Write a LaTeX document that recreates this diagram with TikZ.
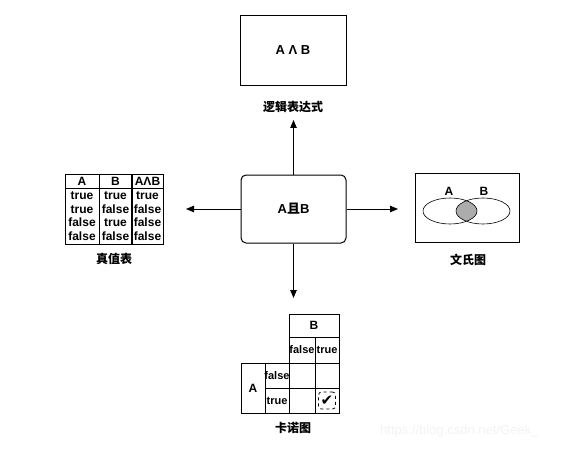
\documentclass[tikz,border=0pt]{standalone}
\usepackage{fontspec}
\setmainfont{Liberation Sans}
\newfontfamily\cjk{Noto Sans CJK SC}
\newfontfamily\symfont{DejaVu Sans}
\usetikzlibrary{arrows.meta,calc}
\begin{document}
\begin{tikzpicture}[x=1pt,y=-1pt,
  boxst/.style={draw,line width=0.8pt,inner sep=0pt},
  captext/.style={font=\cjk\bfseries\fontsize{12}{14}\selectfont},
  txt/.style={font=\bfseries\fontsize{12}{13.5}\selectfont,inner sep=0pt,align=center},
  bigtxt/.style={font=\bfseries\fontsize{13}{14}\selectfont,inner sep=0pt,align=center},
  smalltxt/.style={font=\bfseries\fontsize{11}{13}\selectfont,inner sep=0pt},
  gridln/.style={line width=0.7pt},
  arr/.style={line width=0.8pt,-{Triangle[length=8pt,width=6.5pt]}}]
\useasboundingbox (0,0) rectangle (580,449);

% centre box
\node[draw,line width=1pt,rounded corners=5pt,minimum width=105pt,minimum height=68pt,bigtxt] (center) at (293.5,209) {A\cjk 且\rmfamily B};

% top: logic expression
\node[boxst,minimum width=106pt,minimum height=70pt,bigtxt] (logic) at (293,50) {A Λ B};
\node[captext] (logiccap) at (293,107) {逻辑表达式};
\coordinate (uptip) at (293.5,120);
\draw[arr] (center.north) -- (uptip);

% left: truth table
\draw[gridln] (65,174) rectangle (163,244);
\draw[gridln] (65,188) -- (163,188);
\draw[gridln] (99,174) -- (99,244);
\draw[line width=1.5pt] (132,174) -- (132,244);
\node[txt] (hA) at (82,181) {A};
\node[txt] (hB) at (115.5,181) {B};
\node[txt] (hAB) at (147.5,181) {AΛB};
\node[txt] (cA) at (82,216) {true\\true\\false\\false};
\node[txt] (cB) at (115.5,216) {true\\false\\true\\false};
\node[txt] (cAB) at (147.5,216) {true\\false\\false\\false};
\node[captext] (truthcap) at (114,259) {真值表};
\coordinate (lefttip) at (186,209);
\draw[arr] (center.west) -- (lefttip);

% right: Venn diagram
\node[boxst,minimum width=104pt,minimum height=69pt] (venn) at (467,207.5) {};
\begin{scope}
  \clip (450,211) ellipse (27 and 13);
  \fill[gray!65] (483,211) ellipse (27 and 13);
\end{scope}
\draw[line width=0.6pt] (450,211) ellipse (27 and 13);
\draw[line width=0.6pt] (483,211) ellipse (27 and 13);
\node[txt] (vA) at (449,191) {A};
\node[txt] (vB) at (484,191) {B};
\node[captext] (venncap) at (468,260) {文氏图};
\coordinate (righttip) at (398,209);
\draw[arr] (center.east) -- (righttip);

% bottom: Karnaugh map
\draw[gridln] (289,314) rectangle (339,363);
\draw[gridln] (289,337) -- (339,337);
\draw[gridln] (315,337) -- (315,413);
\draw[gridln] (241,363) rectangle (339,413);
\draw[gridln] (265,363) -- (265,413);
\draw[gridln] (289,363) -- (289,413);
\draw[gridln] (265,388) -- (339,388);
\node[txt] (kB) at (314,325.5) {B};
\node[smalltxt] (kBf) at (302,350) {false};
\node[smalltxt] (kBt) at (327,350) {true};
\node[txt] (kA) at (253,388) {A};
\node[smalltxt] (kAf) at (277,375.5) {false};
\node[smalltxt] (kAt) at (277,400.5) {true};
\node[draw,dashed,line width=0.8pt,rounded corners=3pt,minimum width=17pt,minimum height=17pt,inner sep=0pt,font=\symfont\fontsize{15}{16}\selectfont] (check) at (327,400.5) {✔};
\node[captext] (kcap) at (293,428) {卡诺图};
\coordinate (downtip) at (293.5,298);
\draw[arr] (center.south) -- (downtip);

% watermark
\node[text=gray!10,font=\fontsize{13}{14}\selectfont,anchor=west,inner sep=0pt] (wm) at (380,431) {https://blog.csdn.net/Geek\_};
\end{tikzpicture}
\end{document}
